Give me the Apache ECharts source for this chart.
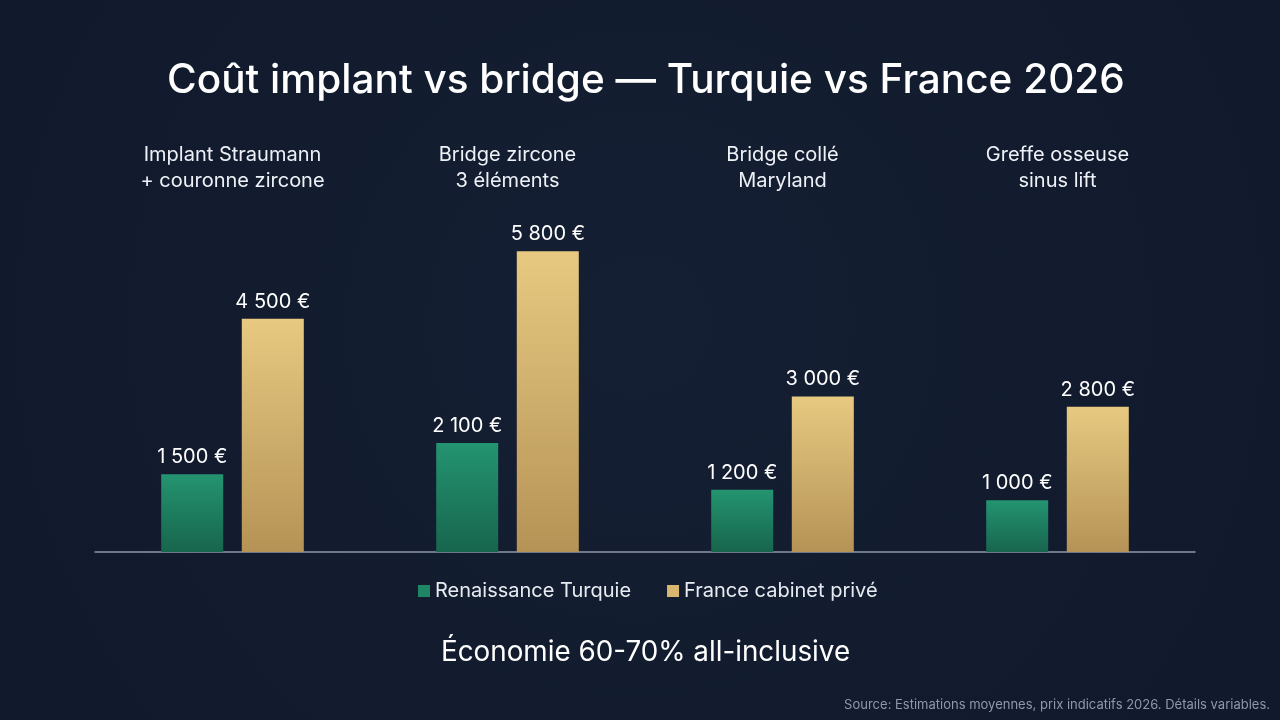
<!DOCTYPE html>
<html>
<head>
<meta charset="utf-8">
<script src="https://cdn.jsdelivr.net/npm/echarts@6/dist/echarts.min.js"></script>
<style>
html,body{margin:0;padding:0;background:#131d30;}
#chart{width:1280px;height:720px;}
</style>
</head>
<body>
<div id="chart"></div>
<script>
const categories = ["Implant Straumann\n+ couronne zircone", "Bridge zircone\n3 éléments", "Bridge collé\nMaryland", "Greffe osseuse\nsinus lift"];
const seriesNames = ["Renaissance Turquie", "France cabinet privé"];
const turquieValues = [1500, 2100, 1200, 1000];
const franceValues = [4500, 5800, 3000, 2800];

const fmt = v => String(v).replace(/\B(?=(\d{3})+(?!\d))/g, ' ') + ' €';
const FONT = 'Inter, "Noto Sans", sans-serif';

const chart = echarts.init(document.getElementById('chart'), null, {renderer: 'canvas'});
chart.setOption({
  backgroundColor: {
    type: 'radial', x: 0.5, y: 0.45, r: 0.9,
    colorStops: [{offset: 0, color: '#151f33'}, {offset: 1, color: '#111a2c'}]
  },
  textStyle: {fontFamily: FONT},
  title: [
    {text: 'Coût implant vs bridge — Turquie vs France 2026', left: 162, top: 55,
     textStyle: {color: '#ffffff', fontSize: 40.5, fontWeight: 500, fontFamily: FONT}},
    {text: 'Économie 60-70% all-inclusive', left: 436, top: 634,
     textStyle: {color: '#ffffff', fontSize: 27.8, fontWeight: 400, fontFamily: FONT}},
    {text: 'Source: Estimations moyennes, prix indicatifs 2026. Détails variables.', right: 5, top: 694,
     textStyle: {color: '#8f98a8', fontSize: 13, fontWeight: 400, fontFamily: FONT}}
  ],
  legend: {
    data: [
      {name: seriesNames[0], itemStyle: {color: '#1f8565'}},
      {name: seriesNames[1], itemStyle: {color: '#d8b66f'}}
    ],
    top: 576, left: 413, itemWidth: 12, itemHeight: 12, itemGap: 36,
    icon: 'rect',
    textStyle: {color: '#e8ecf2', fontSize: 20, fontFamily: FONT}
  },
  grid: {left: 95, right: 85, top: 189, bottom: 168},
  xAxis: [
    {type: 'category', data: categories, position: 'bottom',
     axisLine: {lineStyle: {color: '#8e97a6', width: 1.5}}, axisTick: {show: false}, axisLabel: {show: false}},
    {type: 'category', data: categories, position: 'top', offset: -5,
     axisLine: {show: false}, axisTick: {show: false},
     axisLabel: {color: '#eef1f6', fontSize: 20, lineHeight: 26, margin: 0, fontFamily: FONT}}
  ],
  yAxis: {type: 'value', min: 0, max: 7000, show: false, splitLine: {show: false}},
  series: [
    {name: seriesNames[0], type: 'bar', data: turquieValues, barWidth: 62, barGap: '30%',
     itemStyle: {color: {type: 'linear', x: 0, y: 0, x2: 0, y2: 1,
       colorStops: [{offset: 0, color: '#249470'}, {offset: 1, color: '#17654d'}]}},
     label: {show: true, position: 'top', distance: 7, color: '#ffffff', fontSize: 20, fontFamily: FONT, formatter: p => fmt(p.value)}},
    {name: seriesNames[1], type: 'bar', data: franceValues, barWidth: 62,
     itemStyle: {color: {type: 'linear', x: 0, y: 0, x2: 0, y2: 1,
       colorStops: [{offset: 0, color: '#e7c981'}, {offset: 1, color: '#b59356'}]}},
     label: {show: true, position: 'top', distance: 7, color: '#ffffff', fontSize: 20, fontFamily: FONT, formatter: p => fmt(p.value)}}
  ]
});
</script>
</body>
</html>
